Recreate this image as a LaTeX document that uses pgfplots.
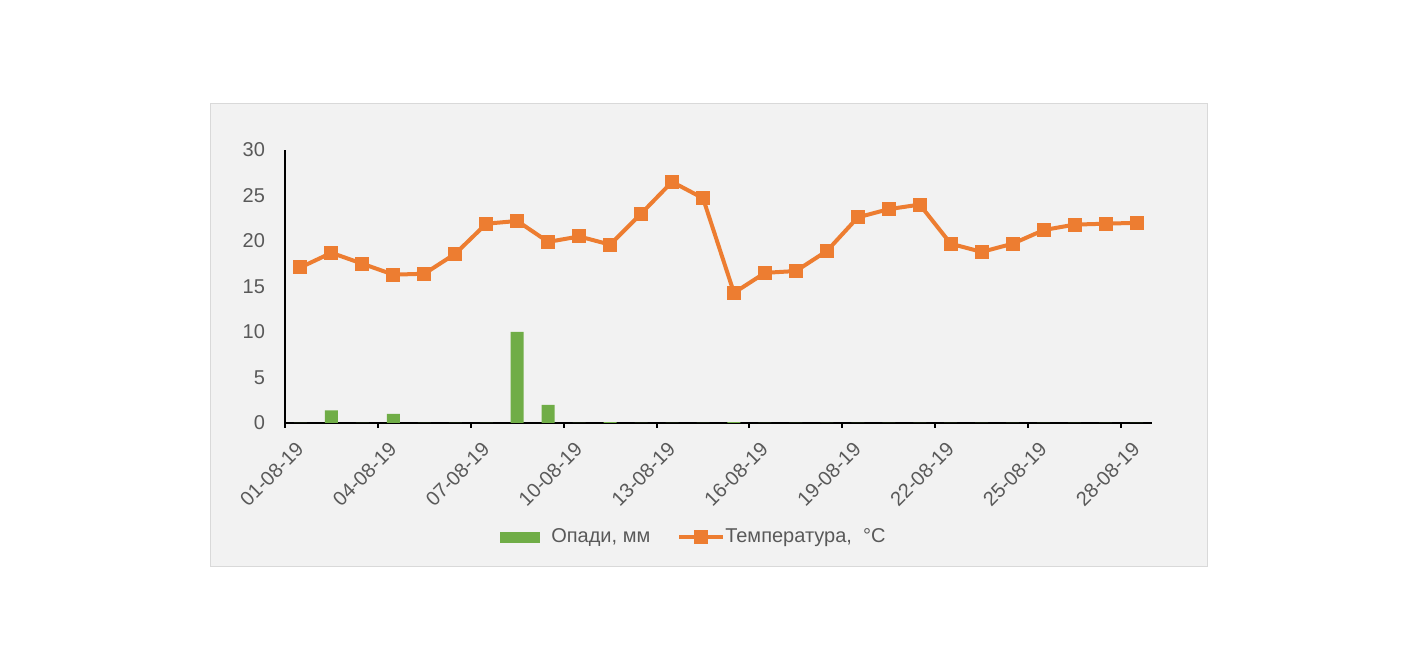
\documentclass[border=0pt]{standalone}
\usepackage{fontspec}
\setmainfont{Liberation Sans}
\usepackage{pgfplots}
\pgfplotsset{compat=1.18}
\definecolor{bg}{HTML}{F2F2F2}
\definecolor{frame}{HTML}{D9D9D9}
\definecolor{txt}{HTML}{595959}
\definecolor{rain}{HTML}{70AD47}
\definecolor{temp}{HTML}{ED7D31}

% day index, precipitation (mm), temperature (C)
\pgfplotstableread{
day rain temp
1  0    17.1
2  1.4  18.7
3  0    17.5
4  1.0  16.3
5  0    16.4
6  0    18.6
7  0    21.9
8  10.0 22.2
9  2.0  19.9
10 0    20.5
11 0.1  19.6
12 0    23.0
13 0    26.5
14 0    24.7
15 0.1  14.3
16 0    16.5
17 0    16.7
18 0    18.9
19 0    22.6
20 0    23.5
21 0    24.0
22 0    19.7
23 0    18.8
24 0    19.7
25 0    21.2
26 0    21.8
27 0    21.9
28 0    22.0
}\weather

\pgfplotsset{
  rainlegend/.style={legend image code/.code={\fill[rain] (0pt,-2.75pt) rectangle (20pt,2.75pt);
      \path (23.5pt,0pt);}},
  templegend/.style={legend image code/.code={\draw[temp, line width=2pt] (0pt,0pt) -- (20pt,0pt);
      \draw[overlay, temp, line width=2pt] (20pt,0pt) -- (22pt,0pt);
      \fill[temp] (8.5pt,-2.5pt) rectangle (13.5pt,2.5pt);}},
}

\begin{document}
\begin{tikzpicture}
% 1 px of the reference = 0.5pt, origin = axis bottom-left corner
\useasboundingbox (-142.5pt,-124.5pt) rectangle (565.5pt,211.5pt);
\fill[white] (-142.5pt,-124.5pt) rectangle (565.5pt,211.5pt);
\draw[frame, fill=bg, line width=0.5pt] (-37.5pt,-72pt) rectangle (461pt,159.5pt);
\begin{axis}[
  at={(0,0)}, anchor=south west,
  scale only axis,
  width=433.5pt, height=136.5pt,
  xmin=0.5, xmax=28.5,
  ymin=0, ymax=30,
  ytick={0,5,...,30},
  xtick={0.5,3.5,...,27.5},
  xticklabels={01-08-19,04-08-19,07-08-19,10-08-19,13-08-19,16-08-19,19-08-19,22-08-19,25-08-19,28-08-19},
  axis x line*=bottom, axis y line*=left,
  axis line style={-, black, line width=1pt},
  tick align=outside,
  major tick length=2.5pt,
  x tick style={black, line width=1pt},
  y tick style={draw=none},
  tick label style={font=\fontsize{10}{12}\selectfont, text=txt},
  /pgf/number format/assume math mode=true,
  yticklabel style={xshift=-4pt},
  xticklabel style={xshift=10pt, yshift=-6.5pt, rotate=45, anchor=east},
  legend columns=2,
  legend style={at={(0.4728,-0.418)}, anchor=center, draw=none, fill=none,
    font=\fontsize{10}{12}\selectfont, text=txt,
    /tikz/every even column/.append style={column sep=11.5pt}},
]
\addplot[ybar, bar width=6.5pt, bar shift=0pt, fill=rain, draw=none, rainlegend]
  table[x=day, y=rain] {\weather};
\addlegendentry{Опади, мм}
\addplot[temp, line width=2pt, mark=square*, mark size=2.5pt,
  mark options={fill=temp, draw=none}, templegend]
  table[x=day, y=temp] {\weather};
\addlegendentry{Температура,\ \ °C}
\end{axis}
\end{tikzpicture}
\end{document}
